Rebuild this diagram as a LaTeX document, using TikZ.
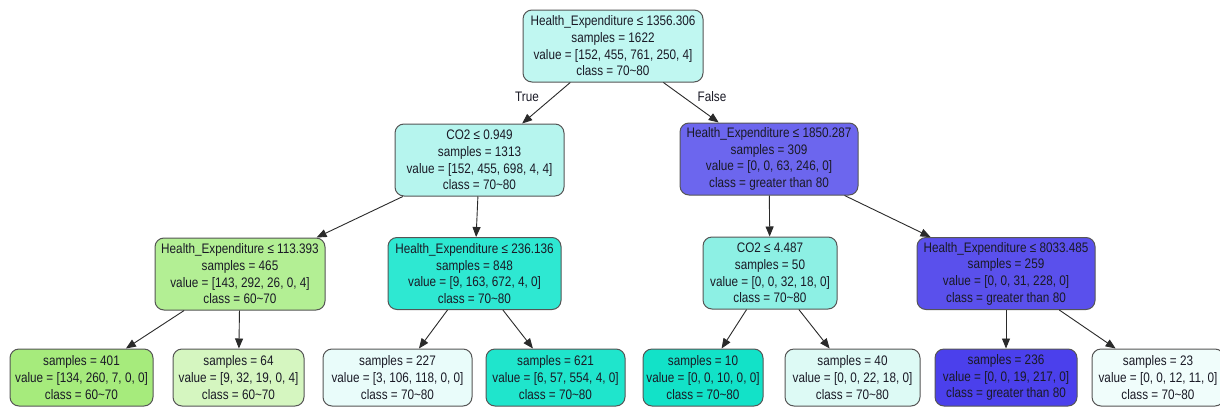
\documentclass[tikz,border=0pt]{standalone}
\usepackage{fontspec}
\setmainfont{Liberation Sans}[FakeStretch=0.85]
\usetikzlibrary{arrows.meta}
\definecolor{bordercol}{HTML}{555555}
\definecolor{textcol}{HTML}{1A1A26}
\definecolor{edgecol}{HTML}{2A2A2A}
\definecolor{cRoot}{HTML}{C0F7F1}
\definecolor{cCOa}{HTML}{B6F5EE}
\definecolor{cHb}{HTML}{6C66EE}
\definecolor{cHc}{HTML}{B3EF94}
\definecolor{cHd}{HTML}{2EE8D2}
\definecolor{cCOb}{HTML}{8DF0E4}
\definecolor{cHe}{HTML}{5A50EC}
\definecolor{cLa}{HTML}{A6EB7C}
\definecolor{cLb}{HTML}{D5F6C0}
\definecolor{cLc}{HTML}{E9FCFA}
\definecolor{cLd}{HTML}{1FE5CC}
\definecolor{cLe}{HTML}{12E2C8}
\definecolor{cLf}{HTML}{DDFAF5}
\definecolor{cLg}{HTML}{4B40EC}
\definecolor{cLh}{HTML}{F0FDFB}
\tikzset{
  tn/.style={draw=bordercol, rounded corners=9pt, line width=1pt, align=center,
    inner sep=0pt, font=\fontsize{13.8}{16.7}\selectfont, text=textcol},
  split/.style={tn, minimum height=72pt},
  leaf/.style={tn, minimum height=57pt},
  edge/.style={draw=edgecol, line width=0.9pt, -{Triangle[length=10pt,width=8pt]}},
  elabel/.style={font=\fontsize{13.8}{16.7}\selectfont, text=textcol, inner sep=0pt}
}
\begin{document}
\begin{tikzpicture}[x=1pt,y=-1pt]
\useasboundingbox[fill=white] (0,0) rectangle (1220,407);
% level 0
\node[split, fill=cRoot, minimum width=180pt] (root) at (613,46)
  {Health\_Expenditure ≤ 1356.306\\samples = 1622\\value = [152, 455, 761, 250, 4]\\class = 70\char`~80};
% level 1
\node[split, fill=cCOa, minimum width=169pt] (coa) at (479.5,160)
  {CO2 ≤ 0.949\\samples = 1313\\value = [152, 455, 698, 4, 4]\\class = 70\char`~80};
\node[split, fill=cHb, minimum width=178pt] (hb) at (769,159)
  {Health\_Expenditure ≤ 1850.287\\samples = 309\\value = [0, 0, 63, 246, 0]\\class = greater than 80};
% level 2
\node[split, fill=cHc, minimum width=170pt] (hc) at (240,274)
  {Health\_Expenditure ≤ 113.393\\samples = 465\\value = [143, 292, 26, 0, 4]\\class = 60\char`~70};
\node[split, fill=cHd, minimum width=173pt] (hd) at (474.5,273.5)
  {Health\_Expenditure ≤ 236.136\\samples = 848\\value = [9, 163, 672, 4, 0]\\class = 70\char`~80};
\node[split, fill=cCOb, minimum width=134pt] (cob) at (770,273)
  {CO2 ≤ 4.487\\samples = 50\\value = [0, 0, 32, 18, 0]\\class = 70\char`~80};
\node[split, fill=cHe, minimum width=178pt] (he) at (1006,273.5)
  {Health\_Expenditure ≤ 8033.485\\samples = 259\\value = [0, 0, 31, 228, 0]\\class = greater than 80};
% leaves
\node[leaf, fill=cLa, minimum width=143pt] (la) at (81.5,377.5)
  {samples = 401\\value = [134, 260, 7, 0, 0]\\class = 60\char`~70};
\node[leaf, fill=cLb, minimum width=131pt] (lb) at (238.5,377.5)
  {samples = 64\\value = [9, 32, 19, 0, 4]\\class = 60\char`~70};
\node[leaf, fill=cLc, minimum width=149pt] (lc) at (397.5,377.5)
  {samples = 227\\value = [3, 106, 118, 0, 0]\\class = 70\char`~80};
\node[leaf, fill=cLd, minimum width=139pt] (ld) at (555.5,377.5)
  {samples = 621\\value = [6, 57, 554, 4, 0]\\class = 70\char`~80};
\node[leaf, fill=cLe, minimum width=120pt] (le) at (703,377.5)
  {samples = 10\\value = [0, 0, 10, 0, 0]\\class = 70\char`~80};
\node[leaf, fill=cLf, minimum width=135pt] (lf) at (852.5,377.5)
  {samples = 40\\value = [0, 0, 22, 18, 0]\\class = 70\char`~80};
\node[leaf, fill=cLg, minimum width=142pt] (lg) at (1006,377.5)
  {samples = 236\\value = [0, 0, 19, 217, 0]\\class = greater than 80};
\node[leaf, fill=cLh, minimum width=132pt] (lh) at (1158,377.5)
  {samples = 23\\value = [0, 0, 12, 11, 0]\\class = 70\char`~80};
% edges
\draw[edge] (root) -- (coa);
\draw[edge] (root) -- (hb);
\node[elabel] (tlab) at (527,97) {True};
\node[elabel] (flab) at (712,97) {False};
\draw[edge] (coa) -- (hc);
\draw[edge] (coa) -- (hd);
\draw[edge] (hb) -- (cob);
\draw[edge] (hb) -- (he);
\draw[edge] (hc) -- (la);
\draw[edge] (hc) -- (lb);
\draw[edge] (hd) -- (lc);
\draw[edge] (hd) -- (ld);
\draw[edge] (cob) -- (le);
\draw[edge] (cob) -- (lf);
\draw[edge] (he) -- (lg);
\draw[edge] (he) -- (lh);
\end{tikzpicture}
\end{document}
